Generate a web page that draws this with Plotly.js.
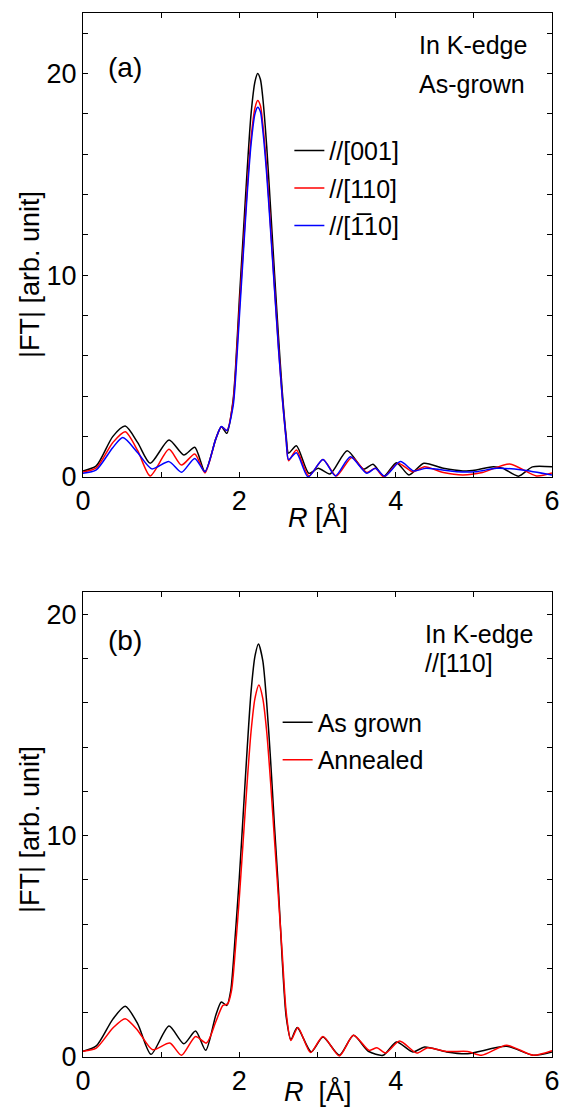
<!DOCTYPE html>
<html>
<head>
<meta charset="utf-8">
<script src="https://cdn.plot.ly/plotly-3.0.1.min.js"></script>
<style>html,body{margin:0;padding:0;background:#fff;}#chart{width:563px;height:1111px;}</style>
</head>
<body>
<div id="chart"></div>
<script>
// ---------- Panel (a): In K-edge, as-grown ----------
const rA001 = [0.00,0.17,0.38,0.54,0.70,0.86,1.10,1.29,1.43,1.56,1.70,1.77,1.84,1.92,1.95,2.00,2.05,2.10,2.15,2.20,2.235,2.27,2.30,2.35,2.40,2.45,2.50,2.55,2.60,2.63,2.73,2.89,3.01,3.16,3.38,3.59,3.71,3.85,4.01,4.17,4.36,4.61,4.86,5.03,5.25,5.37,5.57,5.75,6.00];
const fA001 = [0.30,0.55,2.0,2.52,1.7,0.68,1.83,1.09,1.47,0.26,1.9,2.49,2.16,3.8,5.3,8.8,12.0,15.2,18.0,19.6,20.0,19.7,18.8,16.4,13.3,10.1,7.0,4.2,2.0,1.18,1.55,0.18,0.43,0.15,1.30,0.38,0.63,0.04,0.71,0.10,0.68,0.43,0.30,0.35,0.51,0.43,0.04,0.50,0.50];

const rA110 = [0.00,0.17,0.38,0.54,0.70,0.86,1.10,1.26,1.43,1.56,1.70,1.77,1.84,1.92,1.95,2.00,2.05,2.10,2.15,2.20,2.235,2.27,2.30,2.35,2.40,2.45,2.50,2.55,2.60,2.63,2.73,2.89,3.07,3.24,3.44,3.63,3.74,3.85,4.03,4.22,4.37,4.61,4.86,5.11,5.46,5.80,6.00];
const fA110 = [0.25,0.45,1.7,2.24,1.3,0.05,1.37,0.59,1.14,0.20,1.9,2.49,2.30,3.7,5.1,8.3,11.3,14.3,16.8,18.3,18.66,18.4,17.5,15.3,12.4,9.4,6.5,3.9,1.8,0.80,1.34,0.05,0.87,0.05,0.97,0.22,0.43,0.00,0.68,0.26,0.51,0.22,0.10,0.22,0.64,0.05,0.20];

const rA1b10 = [0.00,0.17,0.38,0.51,0.70,0.88,1.10,1.26,1.43,1.56,1.70,1.77,1.84,1.92,1.95,2.00,2.05,2.10,2.15,2.20,2.235,2.27,2.30,2.35,2.40,2.45,2.50,2.55,2.60,2.63,2.73,2.88,3.07,3.23,3.42,3.63,3.74,3.86,4.06,4.23,4.39,4.78,5.03,5.29,5.62,6.00];
const fA1b10 = [0.18,0.35,1.45,1.95,1.2,0.40,0.76,0.23,0.92,0.26,1.9,2.50,2.30,3.5,4.8,7.9,11.0,14.0,16.5,18.0,18.33,18.1,17.2,15.0,12.2,9.3,6.4,3.9,1.8,0.86,1.20,0.00,0.87,0.05,1.00,0.18,0.43,0.04,0.76,0.30,0.43,0.26,0.26,0.43,0.35,0.10];

// ---------- Panel (b): In K-edge, //[110] ----------
const rBgrown = [0.00,0.17,0.38,0.54,0.70,0.87,1.10,1.29,1.44,1.57,1.70,1.77,1.84,1.89,1.95,2.00,2.05,2.10,2.15,2.20,2.245,2.30,2.35,2.40,2.45,2.50,2.55,2.60,2.66,2.74,2.92,3.07,3.28,3.46,3.65,3.84,4.01,4.22,4.37,4.65,4.92,5.42,5.76,6.00];
const fBgrown = [0.26,0.5,1.7,2.29,1.5,0.12,1.40,0.60,1.17,0.30,1.9,2.48,2.33,3.0,5.6,8.1,11.0,13.9,16.5,18.1,18.65,17.9,16.0,13.4,10.4,7.6,4.3,1.8,0.78,1.33,0.23,0.90,0.08,0.98,0.26,0.08,0.68,0.23,0.45,0.23,0.15,0.48,0.08,0.23];

const rBann = [0.00,0.17,0.38,0.54,0.70,0.89,1.11,1.26,1.44,1.58,1.70,1.79,1.85,1.90,1.95,2.00,2.05,2.10,2.15,2.20,2.25,2.30,2.35,2.40,2.45,2.50,2.55,2.60,2.66,2.75,2.91,3.07,3.28,3.46,3.66,3.76,3.87,4.05,4.27,4.41,4.65,4.92,5.10,5.42,5.76,6.00];
const fBann = [0.26,0.4,1.3,1.73,1.2,0.33,0.63,0.08,0.93,0.63,1.6,2.33,2.4,3.0,4.9,7.2,9.8,12.4,14.7,16.2,16.8,16.2,14.7,12.4,9.8,7.2,4.6,2.0,0.75,1.33,0.20,0.93,0.05,0.98,0.30,0.42,0.18,0.72,0.18,0.42,0.25,0.25,0.08,0.53,0.08,0.28];

// ---------- Labels ----------
const seriesNamesA = ['//[001]', '//[110]', '//[1\u0305' + '10]'];
const seriesNamesB = ['As grown', 'Annealed'];
const xTickVals = [0,1,2,3,4,5,6];
const xTickText = ['0','','2','','4','','6'];
const yTickValsA = [0,2,4,6,8,10,12,14,16,18,20,22];
const yTickTextA = ['0','','','','','10','','','','','20',''];
const yTickValsB = [0,2,4,6,8,10,12,14,16,18,20];
const yTickTextB = ['0','','','','','10','','','','','20'];
const xTitleA = '<i>R</i> [Å]';
const xTitleB = '<i>R</i>\u00a0 [Å]';
const yTitle = '|FT| [arb. unit]';

const FONT = '"Liberation Sans", Arial, Helvetica, sans-serif';
const LW = 1.5;
const TXT = {family: FONT, size: 27, color: '#000'};

function tr(x, y, name, color, xa, ya, leg) {
  return {x: x, y: y, name: name, type: 'scatter', mode: 'lines',
    line: {color: color, width: LW, shape: 'spline', smoothing: 0.7},
    xaxis: xa, yaxis: ya, legend: leg, legendgroup: name + leg, hoverinfo: 'skip'};
}

const data = [
  tr(rA001, fA001, seriesNamesA[0], '#000000', 'x', 'y', 'legend'),
  tr(rA110, fA110, seriesNamesA[1], '#ff0000', 'x', 'y', 'legend'),
  tr(rA1b10, fA1b10, seriesNamesA[2], '#0000ff', 'x', 'y', 'legend'),
  tr(rBgrown, fBgrown, seriesNamesB[0], '#000000', 'x2', 'y2', 'legend2'),
  tr(rBann, fBann, seriesNamesB[1], '#ff0000', 'x2', 'y2', 'legend2')
];

function xax(anchor) {
  return {anchor: anchor, domain: [0,1], range: [0,6], tickmode: 'array', tickvals: xTickVals, ticktext: xTickText,
    ticks: 'inside', ticklen: 5, tickcolor: '#000', mirror: 'ticks', showline: true, linecolor: '#000', linewidth: 1,
    showgrid: false, zeroline: false, tickfont: TXT};
}
function yax(anchor, domain, range, vals, text) {
  return {anchor: anchor, domain: domain, range: range, tickmode: 'array', tickvals: vals, ticktext: text,
    ticks: 'inside', ticklen: 5, tickcolor: '#000', mirror: 'ticks', showline: true, linecolor: '#000', linewidth: 1,
    showgrid: false, zeroline: false, tickfont: TXT};
}

const legendCommon = {xanchor: 'left', yanchor: 'top', bgcolor: 'rgba(0,0,0,0)', borderwidth: 0,
  font: {family: FONT, size: 25, color: '#000'}, itemwidth: 30, tracegroupgap: 2, traceorder: 'grouped'};

function note(xref, yref, x, y, text, size, extra) {
  return Object.assign({xref: xref, yref: yref, x: x, y: y, text: text, showarrow: false,
    xanchor: 'left', yanchor: 'middle', font: {family: FONT, size: size, color: '#000'}}, extra || {});
}

const layout = {
  width: 563, height: 1111,
  margin: {l: 83, r: 11, t: 13, b: 54},
  paper_bgcolor: '#fff', plot_bgcolor: '#fff',
  showlegend: true,
  font: {family: FONT, color: '#000'},
  xaxis: xax('y'),
  yaxis: yax('x', [0.5556, 1], [0, 23], yTickValsA, yTickTextA),
  xaxis2: xax('y2'),
  yaxis2: yax('x2', [0, 0.4454], [0, 21], yTickValsB, yTickTextB),
  legend: Object.assign({x: 0.44, y: 0.890}, legendCommon),
  legend2: Object.assign({x: 0.415, y: 0.3425}, legendCommon),
  annotations: [
    note('paper', 'paper', 0.5, 0.5172, xTitleA, 27, {xanchor: 'center'}),
    note('paper', 'paper', 0.5, -0.0335, xTitleB, 27, {xanchor: 'center'}),
    note('paper', 'paper', -0.113, 0.749, yTitle, 27, {xanchor: 'center', textangle: -90}),
    note('paper', 'paper', -0.113, 0.2174, yTitle, 27, {xanchor: 'center', textangle: -90}),
    note('x', 'y', 0.3, 20.3, '(a)', 28),
    note('x', 'y', 4.27, 21.4, 'In K-edge', 25),
    note('x', 'y', 4.27, 19.5, 'As-grown', 25),
    note('x2', 'y2', 0.3, 18.8, '(b)', 28),
    note('x2', 'y2', 4.35, 19.1, 'In K-edge', 25),
    note('x2', 'y2', 4.35, 17.8, '//[110]', 25)
  ]
};

Plotly.newPlot('chart', data, layout, {staticPlot: true, displayModeBar: false});
</script>
</body>
</html>
